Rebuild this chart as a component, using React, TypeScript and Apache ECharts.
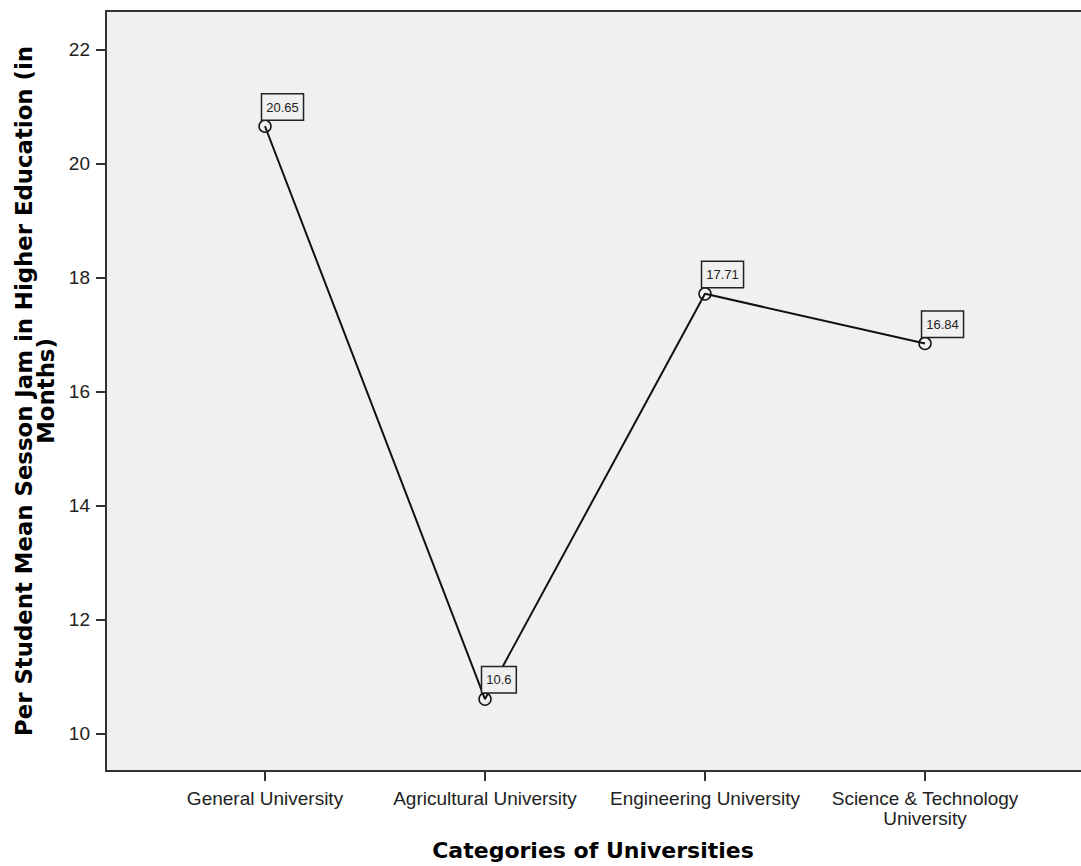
import React, { useEffect, useRef } from "react";
import * as echarts from "echarts";

const categories = [
  "General University",
  "Agricultural University",
  "Engineering University",
  "Science & Technology\nUniversity",
];
const meanValues = [20.65, 10.6, 17.71, 16.84];
const yTickValues = [10, 12, 14, 16, 18, 20, 22];
const xTitle = "Categories of Universities";
const yTitle = "Per Student Mean Sesson Jam in Higher Education (in\nMonths)";

export default function App() {
  const ref = useRef<HTMLDivElement>(null);
  useEffect(() => {
    if (!ref.current) return;
    const chart = echarts.init(ref.current, null, { renderer: "svg" });
    const tickFont = "'Liberation Sans', Arial, sans-serif";
    const titleFont = "'DejaVu Sans', Verdana, sans-serif";
    const xMin = -0.7227;
    const xMax = 3.709;
    chart.setOption({
      animation: false,
      backgroundColor: "#ffffff",
      grid: {
        left: 106,
        right: 0,
        top: 11,
        bottom: 95,
        show: true,
        backgroundColor: "#F0F0F0",
        borderWidth: 0,
      },
      xAxis: [
        {
          type: "value",
          min: xMin,
          max: xMax,
          splitLine: { show: false },
          axisLine: { show: true, onZero: false, lineStyle: { color: "#333333", width: 2 } },
          axisTick: {
            show: true,
            customValues: [0, 1, 2, 3],
            length: 10,
            lineStyle: { color: "#333333", width: 2 },
          },
          axisLabel: {
            customValues: [0, 1, 2, 3],
            formatter: (v: number) => categories[Math.round(v)] ?? "",
            fontFamily: tickFont,
            fontSize: 19,
            lineHeight: 20,
            color: "#222222",
            margin: 17,
          },
        },
        {
          type: "value",
          position: "top",
          min: xMin,
          max: xMax,
          splitLine: { show: false },
          axisLine: { show: true, onZero: false, lineStyle: { color: "#333333", width: 2 } },
          axisTick: { show: false },
          axisLabel: { show: false },
        },
      ],
      yAxis: {
        type: "value",
        min: 9.339,
        max: 22.672,
        splitLine: { show: false },
        axisLine: { show: true, onZero: false, lineStyle: { color: "#333333", width: 2 } },
        axisTick: {
          show: true,
          customValues: yTickValues,
          length: 10,
          lineStyle: { color: "#333333", width: 2 },
        },
        axisLabel: {
          customValues: yTickValues,
          fontFamily: tickFont,
          fontSize: 19,
          color: "#222222",
          margin: 16,
        },
      },
      graphic: [
        {
          type: "text",
          x: 593,
          y: 850,
          style: {
            text: xTitle,
            font: `bold 22px ${titleFont}`,
            fill: "#000000",
            align: "center",
            verticalAlign: "middle",
          },
        },
        {
          type: "text",
          x: 35,
          y: 391,
          rotation: Math.PI / 2,
          style: {
            text: yTitle,
            font: `bold 22.8px ${titleFont}`,
            lineHeight: 22,
            fill: "#000000",
            align: "center",
            verticalAlign: "middle",
          },
        },
      ],
      series: [
        {
          type: "line",
          xAxisIndex: 0,
          data: meanValues.map((v, i) => [i, v]),
          symbol: "circle",
          symbolSize: 12,
          lineStyle: { color: "#111111", width: 2 },
          itemStyle: { color: "rgba(0,0,0,0)", borderColor: "#111111", borderWidth: 1.5 },
          label: {
            show: true,
            position: [4, -25],
            formatter: (p: any) => String(p.value[1]),
            fontFamily: tickFont,
            fontSize: 13,
            color: "#222222",
            backgroundColor: "#F0F0F0",
            borderColor: "#222222",
            borderWidth: 1.5,
            padding: [6, 4, 6, 4],
            align: "left",
            verticalAlign: "top",
          },
        },
      ],
    });
    return () => chart.dispose();
  }, []);
  return (
    <div
      ref={ref}
      style={{ position: "absolute", left: 0, top: 0, width: 1081, height: 866 }}
    />
  );
}
